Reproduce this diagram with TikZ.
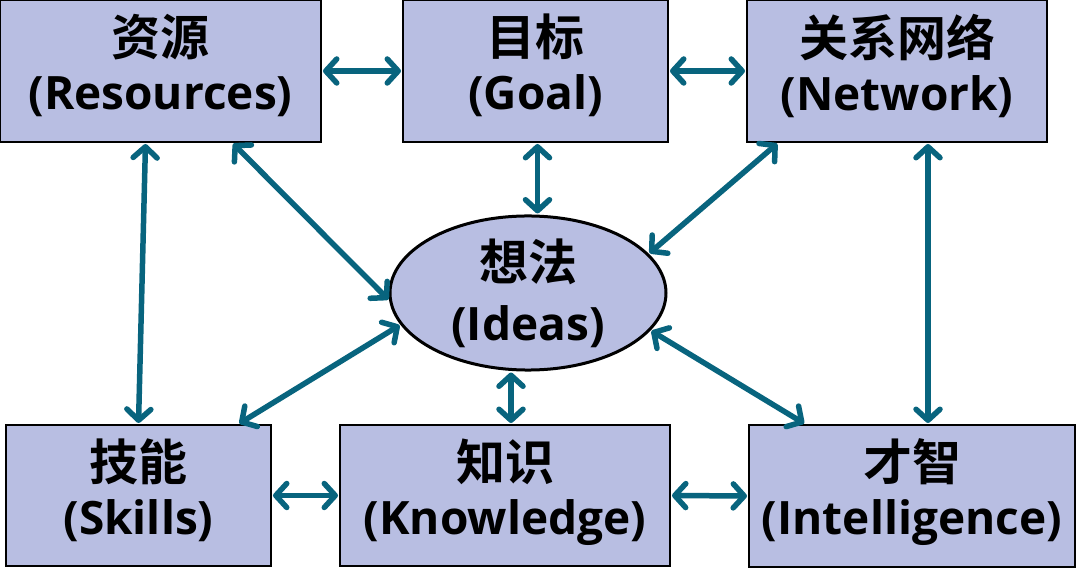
\documentclass[tikz,border=0pt]{standalone}
\usepackage{fontspec}
\setmainfont{Open Sans}
\newfontfamily\cjk{Noto Sans CJK SC}[BoldFont={Noto Sans CJK SC Bold}]
\usetikzlibrary{arrows.meta,shapes.geometric}
\definecolor{boxfill}{HTML}{B8BEE2}
\definecolor{arrowcol}{HTML}{08647E}
\newcommand{\dn}{\rule[-18pt]{0pt}{18pt}}
\newcommand{\zh}[1]{{\cjk\fontsize{49}{54}\selectfont #1}}
\tikzset{barbtip/.tip={Straight Barb[length=11pt,width=24pt,line width=5.5pt,round]}}
\begin{document}
\begin{tikzpicture}[x=1pt,y=-1pt,
  box/.style={draw=black,line width=2pt,fill=boxfill,inner sep=0pt,align=center,
    font=\bfseries\fontsize{46}{54}\selectfont},
  idea/.style={ellipse,draw=black,line width=3pt,fill=boxfill,inner sep=0pt,align=center,
    minimum width=276pt,minimum height=146pt,font=\bfseries\fontsize{46}{60}\selectfont},
  link/.style={draw=arrowcol,line width=5.5pt,shorten <=1pt,shorten >=1pt,{barbtip}-{barbtip}}]
\useasboundingbox (0,0) rectangle (1077,569);
\node[box,minimum width=321pt,minimum height=142pt] (res) at (160.5,71) {\zh{资源}\\(Resources)\dn};
\node[box,minimum width=265pt,minimum height=142pt] (goal) at (535.5,71) {\zh{目标}\\(Goal)\dn};
\node[box,minimum width=300pt,minimum height=142pt] (net) at (897,71) {\zh{关系网络}\\(Network)\dn};
\node[box,minimum width=265pt,minimum height=141pt] (sk) at (138.5,495.5) {\zh{技能}\\(Skills)\dn};
\node[box,minimum width=330pt,minimum height=141pt] (kn) at (505,495.5) {\zh{知识}\\(Knowledge)\dn};
\node[box,minimum width=326pt,minimum height=142pt] (int) at (912,496) {\zh{才智}\\(Intelligence)\dn};
\node[idea] (ideas) at (528,293) {\zh{想法}\\(Ideas)};
\draw[link] (res.east) -- (goal.west);
\draw[link] (goal.east) -- (net.west);
\draw[link] ([xshift=-15pt]res.south) -- (sk.north);
\draw[link] ([xshift=72pt]res.south) -- (ideas.183);
\draw[link] ([xshift=2pt]goal.south) -- ([xshift=2pt]goal.south |- ideas.north);
\draw[link] ([xshift=-119pt]net.south) -- (ideas.18);
\draw[link] ([xshift=31pt]net.south) -- ([xshift=31pt]net.south |- int.north);
\draw[link] ([xshift=100pt]sk.north) -- (ideas.194);
\draw[link] ([xshift=6pt]kn.north) -- ([xshift=6pt]kn.north |- ideas.south);
\draw[link] ([xshift=-107pt]int.north) -- (ideas.343);
\draw[link] (sk.east) -- (kn.west);
\draw[link] (kn.east) -- (int.west);
\end{tikzpicture}
\end{document}
